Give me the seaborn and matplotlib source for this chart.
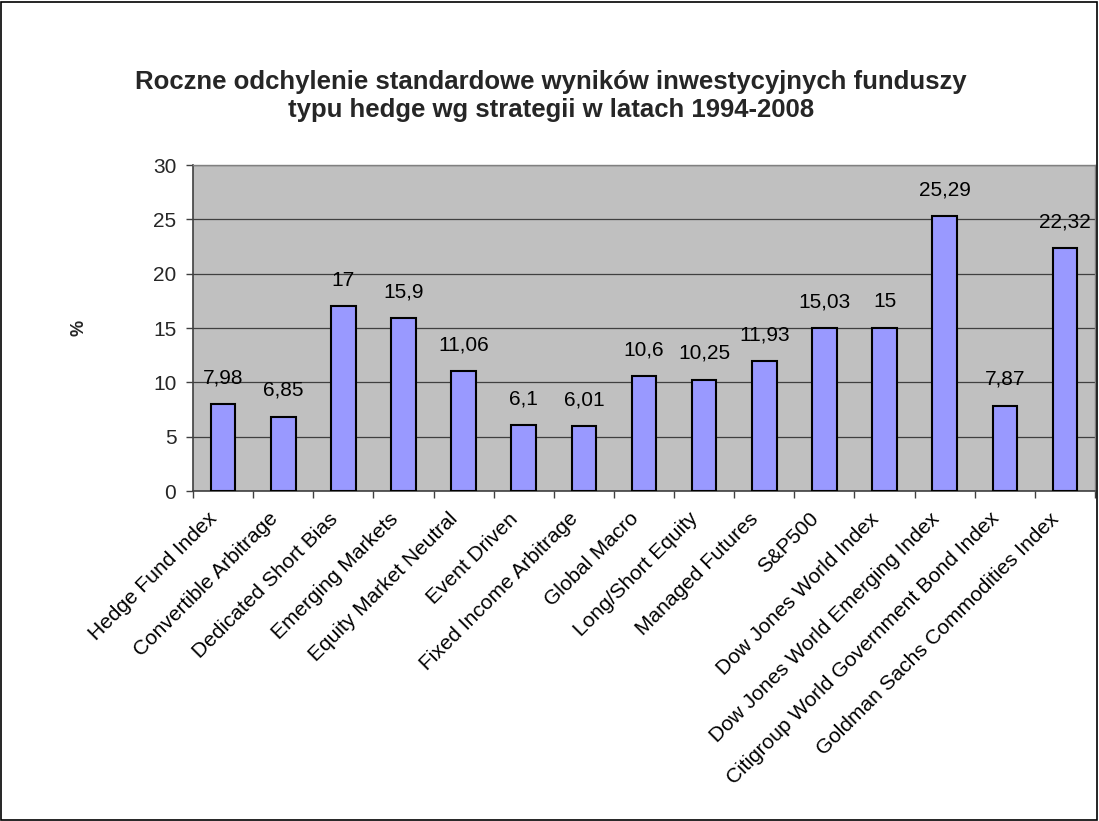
import matplotlib
matplotlib.use("Agg")
import matplotlib.pyplot as plt
import seaborn as sns
import pandas as pd
import numpy as np
from matplotlib.ticker import FixedLocator

categories = ["Hedge Fund Index", "Convertible Arbitrage", "Dedicated Short Bias",
              "Emerging Markets", "Equity Market Neutral", "Event Driven",
              "Fixed Income Arbitrage", "Global Macro", "Long/Short Equity",
              "Managed Futures", "S&P500", "Dow Jones World Index",
              "Dow Jones World Emerging Index", "Citigroup World Government Bond Index",
              "Goldman Sachs Commodities Index"]
values = [7.98, 6.85, 17, 15.9, 11.06, 6.1, 6.01, 10.6, 10.25, 11.93, 15.03, 15, 25.29, 7.87, 22.32]
labels = ["7,98", "6,85", "17", "15,9", "11,06", "6,1", "6,01", "10,6", "10,25", "11,93",
          "15,03", "15", "25,29", "7,87", "22,32"]
yticks = [0, 5, 10, 15, 20, 25, 30]

sns.set_theme(style="white")
plt.rcParams['font.family'] = ['Liberation Sans', 'DejaVu Sans']

df = pd.DataFrame({"cat": categories, "val": values})

fig = plt.figure(figsize=(10.99, 8.21), dpi=100)
ax = fig.add_axes([0.1756, 0.4019, 0.8208, 0.3971])
ax.set_facecolor("#C0C0C0")
sns.barplot(data=df, x="cat", y="val", color="#9999FF", saturation=1, width=0.41,
            edgecolor="black", linewidth=1.5, ax=ax, zorder=3)
ax.set_xlim(-0.5, len(categories) - 0.5)
ax.set_ylim(0, 30)
ax.set_yticks(yticks)
ax.set_yticklabels([str(t) for t in yticks], fontsize=15)
ax.grid(axis="y", color="#404040", linewidth=0.9, zorder=0)
ax.set_axisbelow(True)

for i, (v, lab) in enumerate(zip(values, labels)):
    ax.annotate(lab, (i, v), xytext=(0, 12), textcoords="offset points",
                ha="center", va="bottom", fontsize=15, color="black")

# category labels, rotated, placed at each category position on the x axis
ax.set_xticks(range(len(categories)))
ax.set_xticklabels([""] * len(categories))
for i, cat in enumerate(categories):
    ax.annotate(cat, (i, 0), xycoords=("data", "axes fraction"), xytext=(-11, -13),
                textcoords="offset points", rotation=45, ha="right", va="top",
                rotation_mode="anchor", fontsize=15, color="black", annotation_clip=False)
ax.tick_params(axis="x", which="major", length=0)
ax.xaxis.set_minor_locator(FixedLocator(np.arange(-0.5, len(categories), 1.0)))
ax.tick_params(axis="x", which="minor", length=5, color="#404040", width=1, direction="out", bottom=True)
ax.tick_params(axis="y", length=5, color="#404040", width=1, direction="out", left=True, pad=7)

ax.set_xlabel("")
ax.set_ylabel("%", fontsize=13, fontweight="bold")
ax.yaxis.set_label_coords(-0.1164, 0.5)

for side in ["left", "bottom"]:
    ax.spines[side].set_color("#404040")
    ax.spines[side].set_linewidth(1.2)
for side in ["top", "right"]:
    ax.spines[side].set_color("#808080")
    ax.spines[side].set_linewidth(1.0)
    ax.spines[side].set_visible(True)

fig.text(0.501, 0.883, "Roczne odchylenie standardowe wyników inwestycyjnych funduszy\ntypu hedge wg strategii w latach 1994-2008",
         ha="center", va="center", fontsize=18.5, fontweight="bold", linespacing=1.25)

fig.patches.append(plt.Rectangle((0.001, 0.001), 0.997, 0.997, transform=fig.transFigure,
                                 fill=False, edgecolor="black", linewidth=1.2))

fig.savefig("out.png", dpi=100, facecolor="white")
